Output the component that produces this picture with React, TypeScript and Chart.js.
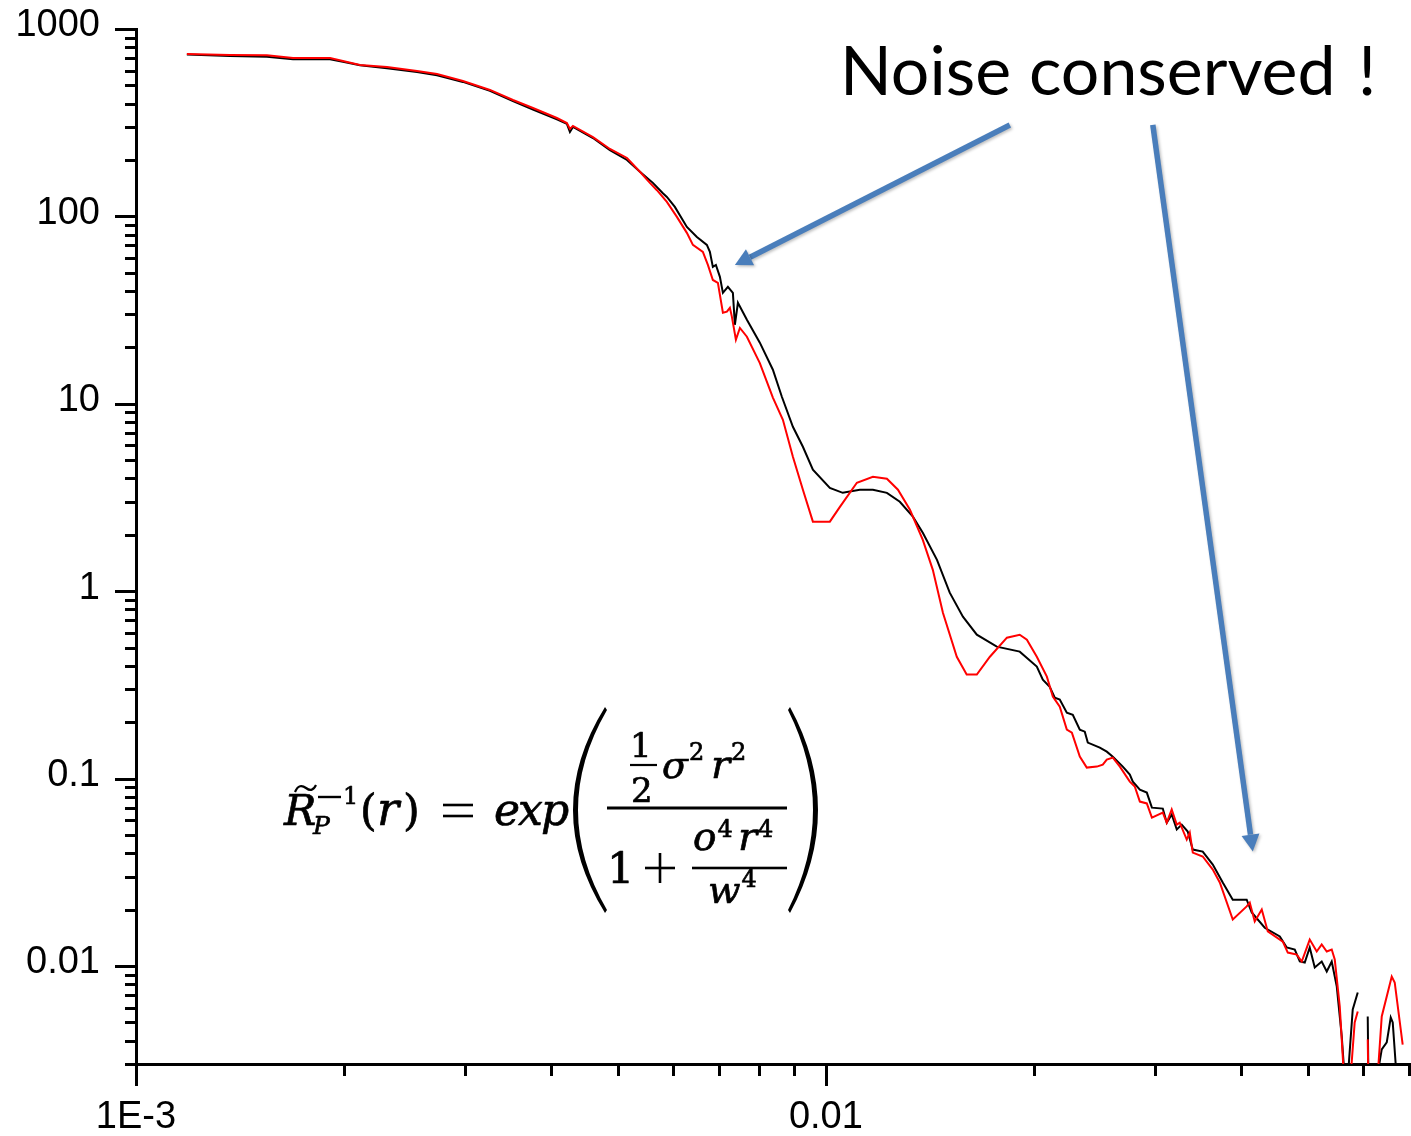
import React, { useEffect, useRef } from "react";
import { Chart, registerables } from "chart.js";

Chart.register(...registerables);

// Radial coordinate r and inverse blur response for the measured (black) curve
const measuredR = [
  0.001185, 0.001368, 0.001548, 0.001689, 0.001911, 0.001995, 0.002112, 0.002311, 0.002555, 0.002731,
  0.002978, 0.003259, 0.003519, 0.003762, 0.004075, 0.004213, 0.004256, 0.004299, 0.004596, 0.004864,
  0.005149, 0.005376, 0.005614, 0.005804, 0.005882, 0.006041, 0.006288, 0.006502, 0.006722, 0.00679,
  0.006858, 0.006928, 0.007021, 0.007092, 0.007211, 0.007332, 0.007381, 0.007456, 0.007683, 0.008022,
  0.008379, 0.008634, 0.008958, 0.009262, 0.009576, 0.010134, 0.01058, 0.0112, 0.0117, 0.01226,
  0.0128, 0.01337, 0.01382, 0.01449, 0.01512, 0.0158, 0.01655, 0.01769, 0.0191, 0.02022,
  0.02063, 0.02111, 0.02147, 0.02183, 0.02235, 0.0228, 0.02334, 0.02373, 0.02397, 0.02495,
  0.02554, 0.02606, 0.02694, 0.02758, 0.02786, 0.02852, 0.02919, 0.02969, 0.03079, 0.0312,
  0.03172, 0.03226, 0.0328, 0.03346, 0.03403, 0.03518, 0.03638, 0.03761, 0.03889, 0.04007,
  0.04074, 0.04143, 0.04327, 0.0455, 0.04657, 0.04783, 0.04864, 0.04945, 0.05028, 0.05113,
  0.05233, 0.05322, 0.05411, 0.05503, 0.05595, 0.05651, 0.05708, 0.05804, 0.05902, 0.06,
  0.06102, 0.0612, 0.06289, 0.06394, 0.06502, 0.06589, 0.06633, 0.06722,
];
const measuredValue: (number | null)[] = [
  730, 718, 712, 690, 690, 668, 640, 618, 590, 566,
  522, 468, 412, 372, 330, 312, 282, 300, 262, 226,
  200, 173, 151, 133, 127, 112.4, 87.9, 77.7, 70.5, 64.7,
  53.8, 55.1, 47.6, 39.1, 42.1, 39.1, 26.4, 34.6, 28.1, 21.2,
  15.2, 10.9, 7.54, 5.9, 4.45, 3.56, 3.35, 3.48, 3.48, 3.35,
  3.0, 2.5, 2.05, 1.47, 0.982, 0.731, 0.586, 0.506, 0.476, 0.396,
  0.337, 0.309, 0.27, 0.264, 0.225, 0.219, 0.1825, 0.178, 0.1556, 0.1463,
  0.1393, 0.131, 0.1159, 0.105, 0.0964, 0.0874, 0.0842, 0.07, 0.0692, 0.0582,
  0.0643, 0.0535, 0.0568, 0.0522, 0.0418, 0.0408, 0.0348, 0.0279, 0.0226, 0.0226,
  0.0226, 0.0193, 0.016, 0.01437, 0.01256, 0.01225, 0.01057, 0.01044, 0.01256, 0.00982,
  0.01057, 0.00935, 0.01057, 0.00777, 0.00421, 0.0025, 0.0025, 0.00586, 0.00722, null,
  0.00538, 0.002, 0.0025, 0.00359, 0.00391, 0.00531, 0.005, 0.0025,
];

// Radial coordinate r and model values for the fitted (red) curve
const modelR = [
  0.001185, 0.001368, 0.001548, 0.001689, 0.001911, 0.001995, 0.002112, 0.002311, 0.002555, 0.002731,
  0.002978, 0.003259, 0.003519, 0.003762, 0.004075, 0.004213, 0.004256, 0.004299, 0.004596, 0.004864,
  0.005149, 0.005376, 0.005558, 0.00569, 0.005882, 0.006082, 0.006288, 0.006416, 0.006633, 0.006745,
  0.006858, 0.006974, 0.007092, 0.007187, 0.007259, 0.007308, 0.007406, 0.007506, 0.007683, 0.008022,
  0.008379, 0.008664, 0.008958, 0.009262, 0.009576, 0.010134, 0.01048, 0.01109, 0.0117, 0.01226,
  0.01272, 0.01324, 0.01382, 0.01429, 0.01478, 0.01548, 0.016, 0.01655, 0.01729, 0.0183,
  0.0191, 0.01956, 0.02022, 0.02091, 0.02133, 0.02183, 0.02235, 0.02273, 0.02334, 0.02389,
  0.02471, 0.0252, 0.02554, 0.02606, 0.02668, 0.02758, 0.02804, 0.02852, 0.02919, 0.02969,
  0.03079, 0.0312, 0.03172, 0.03226, 0.03258, 0.03335, 0.03369, 0.03403, 0.03518, 0.03638,
  0.03724, 0.03889, 0.04074, 0.04116, 0.04185, 0.04284, 0.04371, 0.04596, 0.04673, 0.04815,
  0.04896, 0.05028, 0.05147, 0.05233, 0.05322, 0.05411, 0.05466, 0.05558, 0.05651, 0.05745,
  0.05842, 0.05902, 0.06, 0.06102, 0.0612, 0.06289, 0.06394, 0.06611, 0.06677, 0.06857,
];
const modelValue: (number | null)[] = [
  736, 727, 724, 700, 700, 675, 643, 627, 597, 575,
  528, 473, 418, 379, 335, 315, 293, 304, 265, 229,
  205, 173, 151, 138, 119.5, 99.4, 81.7, 70.5, 64.7, 55.1,
  45.8, 44.2, 30.6, 31.0, 32.5, 29.1, 22.0, 25.4, 22.8, 16.5,
  10.8, 8.22, 5.22, 3.48, 2.35, 2.35, 2.82, 3.79, 4.08, 3.98,
  3.48, 2.72, 1.88, 1.3, 0.768, 0.447, 0.359, 0.359, 0.447, 0.565,
  0.586, 0.551, 0.447, 0.35, 0.274, 0.242, 0.1825, 0.176, 0.131, 0.1145,
  0.1159, 0.1188, 0.1263, 0.1294, 0.1159, 0.0964, 0.0907, 0.0754, 0.0737, 0.0619,
  0.0659, 0.0582, 0.0684, 0.0568, 0.0582, 0.0473, 0.0515, 0.0403, 0.0384, 0.0327,
  0.0279, 0.0177, 0.0208, 0.0218, 0.0173, 0.02, 0.0153, 0.0135, 0.0118, 0.0115,
  0.01057, 0.01384, 0.01195, 0.01302, 0.01195, 0.01225, 0.01083, 0.00608, 0.0022, 0.0022,
  0.005, 0.00572, null, 0.00406, 0.002, 0.0022, 0.00538, 0.00879, 0.00817, 0.00381,
];

// Labelled decades on each axis
const yTickValues = [1000, 100, 10, 1, 0.1, 0.01];
const yTickText = ["1000", "100", "10", "1", "0.1", "0.01"];
const xTickValues = [0.001, 0.01];
const xTickText = ["1E-3", "0.01"];

// Arrows pointing at the noise, as [r, value] from tail to head
const noiseArrows = [
  { from: [0.01848, 307.6], to: [0.007381, 55.1] },
  { from: [0.02978, 307.6], to: [0.04158, 0.0408] },
];
const headline = ["Noise", "conserved", "!"];

const SANS = "'Liberation Sans', Arial, sans-serif";
const MATH = "'DejaVu Serif', 'Liberation Serif', serif";
const ARROW_BLUE = "#4A7EBB";

const labelFor = (value: number, values: number[], texts: string[]) => {
  for (let i = 0; i < values.length; i++) {
    if (Math.abs(value / values[i] - 1) < 1e-6) return texts[i];
  }
  return "";
};

// Keep the plot area where the layout padding puts it, without label overflow padding
const noOverflow = (scale: any) => {
  scale.paddingTop = 0;
  scale.paddingBottom = 0;
  scale.paddingLeft = 0;
  scale.paddingRight = 0;
};

// Log-scale tick marks: long at decades, short at 2..9 multiples
const tickMarks = {
  id: "tickMarks",
  afterDraw(chart: any) {
    const { ctx } = chart;
    const xs = chart.scales.x;
    const ys = chart.scales.y;
    const classify = (v: number) => {
      const e = Math.floor(Math.log10(v) + 1e-9);
      const sig = v / Math.pow(10, e);
      const rounded = Math.round(sig);
      if (Math.abs(sig - rounded) > 1e-6) return null;
      return rounded === 1 || rounded === 10 ? "major" : "minor";
    };
    ctx.save();
    ctx.strokeStyle = "#000";
    ctx.lineWidth = 3;
    ctx.lineCap = "butt";
    for (const t of ys.ticks) {
      const kind = classify(t.value);
      if (!kind || t.value < ys.min * 0.999999 || t.value > ys.max * 1.000001) continue;
      const py = Math.round(ys.getPixelForValue(t.value)) + 0.5;
      ctx.beginPath();
      ctx.moveTo(chart.chartArea.left - (kind === "major" ? 21 : 11), py);
      ctx.lineTo(chart.chartArea.left, py);
      ctx.stroke();
    }
    for (const t of xs.ticks) {
      const kind = classify(t.value);
      if (!kind || t.value < xs.min * 0.999999 || t.value > xs.max * 1.000001) continue;
      const px = Math.round(xs.getPixelForValue(t.value)) + 0.5;
      ctx.beginPath();
      ctx.moveTo(px, chart.chartArea.bottom);
      ctx.lineTo(px, chart.chartArea.bottom + (kind === "major" ? 22 : 12));
      ctx.stroke();
    }
    ctx.restore();
  },
};

// Headline and arrows
const annotations = {
  id: "annotations",
  afterDraw(chart: any) {
    const { ctx } = chart;
    const xs = chart.scales.x;
    const ys = chart.scales.y;
    ctx.save();
    ctx.fillStyle = "#000";
    ctx.textBaseline = "alphabetic";
    ctx.textAlign = "left";
    ctx.font = `68px Lato, 'Open Sans', sans-serif`;
    ctx.fillText(headline[0], 840, 95);
    ctx.fillText(headline[1], 1029, 95);
    ctx.fillText(headline[2], 1358, 95);

    for (const a of noiseArrows) {
      const x1 = xs.getPixelForValue(a.from[0]);
      const y1 = ys.getPixelForValue(a.from[1]);
      const x2 = xs.getPixelForValue(a.to[0]);
      const y2 = ys.getPixelForValue(a.to[1]);
      const ang = Math.atan2(y2 - y1, x2 - x1);
      const headLen = 17;
      const headHalf = 9;
      const bx = x2 - headLen * Math.cos(ang);
      const by = y2 - headLen * Math.sin(ang);
      ctx.save();
      ctx.shadowColor = "rgba(0,0,0,0.25)";
      ctx.shadowBlur = 3;
      ctx.shadowOffsetX = 1.5;
      ctx.shadowOffsetY = 1.5;
      ctx.strokeStyle = ARROW_BLUE;
      ctx.fillStyle = ARROW_BLUE;
      ctx.lineWidth = 5.5;
      ctx.beginPath();
      ctx.moveTo(x1, y1);
      ctx.lineTo(bx, by);
      ctx.stroke();
      ctx.beginPath();
      ctx.moveTo(x2, y2);
      ctx.lineTo(bx + headHalf * Math.sin(ang), by - headHalf * Math.cos(ang));
      ctx.lineTo(bx - headHalf * Math.sin(ang), by + headHalf * Math.cos(ang));
      ctx.closePath();
      ctx.fill();
      ctx.restore();
    }
    ctx.restore();
  },
};

// Closed-form expression of the inverse response
const formula = {
  id: "formula",
  afterDraw(chart: any) {
    const { ctx } = chart;
    const it = (s: number) => `italic ${s}px ${MATH}`;
    const up = (s: number) => `${s}px ${MATH}`;
    // draws a glyph run and returns the x where it ends
    const put = (t: string, x: number, y: number, f: string) => {
      ctx.font = f;
      ctx.fillText(t, x, y);
      ctx.strokeText(t, x, y);
      return x + ctx.measureText(t).width;
    };
    const bar = (x1: number, x2: number, y: number, th: number) => ctx.fillRect(x1, y - th / 2, x2 - x1, th);
    ctx.save();
    ctx.fillStyle = "#000";
    ctx.strokeStyle = "#000";
    ctx.lineWidth = 0.7;
    ctx.lineJoin = "round";
    ctx.textAlign = "left";
    ctx.textBaseline = "alphabetic";

    // R with tilde, sub P, sup -1
    put("R", 284, 825, it(43));
    ctx.save();
    ctx.lineWidth = 2.2;
    ctx.beginPath();
    ctx.moveTo(295, 792);
    ctx.bezierCurveTo(298, 785, 302, 785, 306, 788);
    ctx.bezierCurveTo(310, 791, 313, 791, 316, 785);
    ctx.stroke();
    ctx.restore();
    put("P", 313, 834, it(25));
    bar(318, 341, 797, 2.4);
    put("1", 343, 804, up(24));
    put("(", 360, 825, up(43));
    put("r", 377, 825, it(46));
    put(")", 403, 825, up(43));
    bar(443, 473, 805, 2.6);
    bar(443, 473, 816, 2.6);
    put("e", 494, 825, it(44));
    put("x", 518, 825, it(44));
    put("p", 541, 825, it(44));

    // Large parentheses
    ctx.beginPath();
    ctx.moveTo(605, 707);
    ctx.quadraticCurveTo(541, 810, 605, 913);
    ctx.lineTo(607, 910);
    ctx.quadraticCurveTo(549, 810, 607, 710);
    ctx.closePath();
    ctx.fill();
    ctx.beginPath();
    ctx.moveTo(790, 707);
    ctx.quadraticCurveTo(846, 810, 790, 913);
    ctx.lineTo(788, 910);
    ctx.quadraticCurveTo(838, 810, 788, 710);
    ctx.closePath();
    ctx.fill();

    // Numerator: 1/2 sigma^2 r^2
    put("1", 630, 757, up(34));
    bar(630, 657, 765, 2.2);
    put("2", 631, 802, up(34));
    let e = put("σ", 662, 778, it(38));
    put("2", e + 1, 760, up(24));
    e = put("r", 711, 778, it(40));
    put("2", e + 1, 760, up(24));

    // Main fraction bar
    bar(607, 787, 808, 3);

    // Denominator: 1 + o^4 r^4 / w^4
    put("1", 607, 883, up(43));
    bar(645, 675, 868, 2.6);
    ctx.fillRect(658.7, 853, 2.6, 30);
    e = put("o", 693, 850, it(39));
    put("4", e + 1, 837, up(24));
    e = put("r", 738, 850, it(40));
    put("4", e + 1, 837, up(24));
    bar(692, 787, 868, 2.6);
    e = put("w", 708, 903, it(38));
    put("4", e + 1, 887, up(24));
    ctx.restore();
  },
};

export default function App() {
  const canvasRef = useRef<HTMLCanvasElement>(null);

  useEffect(() => {
    if (!canvasRef.current) return;
    const measured = measuredR.map((r, i) => ({ x: r, y: measuredValue[i] }));
    const model = modelR.map((r, i) => ({ x: r, y: modelValue[i] }));

    const chart = new Chart(canvasRef.current, {
      type: "line",
      data: {
        datasets: [
          {
            label: "model",
            data: model as any,
            borderColor: "#ff0000",
            borderWidth: 2,
            pointRadius: 0,
            tension: 0,
            spanGaps: false,
          },
          {
            label: "measured",
            data: measured as any,
            borderColor: "#000000",
            borderWidth: 2,
            pointRadius: 0,
            tension: 0,
            spanGaps: false,
          },
        ],
      },
      options: {
        animation: false,
        responsive: false,
        maintainAspectRatio: false,
        devicePixelRatio: 1,
        layout: { padding: { top: 29, left: 0, right: 0, bottom: 0 } },
        plugins: {
          legend: { display: false },
          tooltip: { enabled: false },
        },
        events: [],
        scales: {
          x: {
            type: "logarithmic",
            min: 0.001,
            max: 0.0705,
            grid: { display: false, drawTicks: false },
            border: { display: true, color: "#000", width: 3 },
            ticks: {
              autoSkip: false,
              maxRotation: 0,
              minRotation: 0,
              padding: 31,
              color: "#000",
              font: { family: SANS, size: 38 },
              callback: (v: any) => labelFor(Number(v), xTickValues, xTickText),
            },
            afterFit: (scale: any) => {
              scale.height = 72;
              noOverflow(scale);
            },
          },
          y: {
            type: "logarithmic",
            min: 0.003,
            max: 1000,
            grid: { display: false, drawTicks: false },
            border: { display: true, color: "#000", width: 3 },
            ticks: {
              autoSkip: false,
              padding: 36,
              labelOffset: -3,
              color: "#000",
              font: { family: SANS, size: 38 },
              callback: (v: any) => labelFor(Number(v), yTickValues, yTickText),
            },
            afterFit: (scale: any) => {
              scale.width = 136;
              noOverflow(scale);
            },
          },
        },
      } as any,
      plugins: [tickMarks, annotations, formula],
    });
    return () => chart.destroy();
  }, []);

  return (
    <div style={{ position: "absolute", left: 0, top: 0, width: 1411, height: 1136, background: "#fff" }}>
      <canvas ref={canvasRef} width={1411} height={1136} style={{ display: "block", width: 1411, height: 1136 }} />
    </div>
  );
}
